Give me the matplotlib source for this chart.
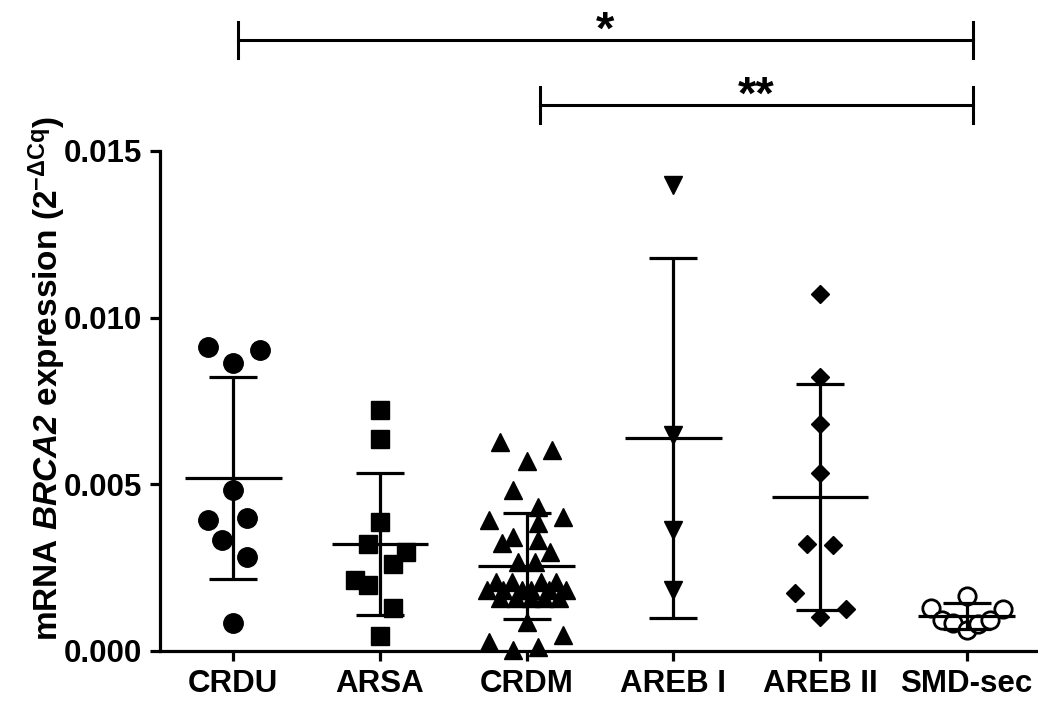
import matplotlib
matplotlib.use("Agg")
import matplotlib.pyplot as plt
import matplotlib.transforms as mtransforms
import numpy as np

plt.rcParams['font.family'] = ['Liberation Sans', 'DejaVu Sans']
plt.rcParams['font.weight'] = 'bold'
plt.rcParams['mathtext.fontset'] = 'custom'
plt.rcParams['mathtext.rm'] = 'Liberation Sans:bold'
plt.rcParams['mathtext.it'] = 'Liberation Sans:italic:bold'
plt.rcParams['mathtext.bf'] = 'Liberation Sans:bold'
plt.rcParams['mathtext.bfit'] = 'Liberation Sans:italic:bold'

groups = ['CRDU', 'ARSA', 'CRDM', 'AREB I', 'AREB II', 'SMD-sec']

# values (2^-dCq)
crdu = [0.00912, 0.00903, 0.00864, 0.00483, 0.00393, 0.00399, 0.00333, 0.00282, 0.00084]
arsa = [0.00723, 0.00636, 0.00387, 0.00321, 0.00297, 0.00261, 0.00213, 0.00198, 0.00129, 0.00045]
crdm = [0.00627, 0.00603, 0.00570, 0.00483, 0.00432, 0.00402, 0.00393, 0.00342, 0.00384,
        0.00324, 0.00333, 0.00297, 0.00267, 0.00267,
        0.00207, 0.00207, 0.00207, 0.00207,
        0.00183, 0.00183, 0.00183, 0.00183, 0.00183, 0.00183,
        0.00159, 0.00159, 0.00159, 0.00159, 0.00159,
        0.00087, 0.00027, 0.00048, 0.00003, 0.00012]
areb1 = [0.01398, 0.00648, 0.00363, 0.00183]
areb2 = [0.01071, 0.00822, 0.00681, 0.00534, 0.00321, 0.00318, 0.00174, 0.00102, 0.00126]
smd = [0.00165, 0.00129, 0.00126, 0.00093, 0.00084, 0.00063, 0.00081, 0.00093]

# horizontal scatter of the dots, in category widths
crdu_dx = [-0.17, 0.18, 0, 0, -0.17, 0.095, -0.08, 0.095, 0]
arsa_dx = [0, 0, 0, -0.085, 0.18, 0.09, -0.17, -0.085, 0.09, 0]
crdm_dx = [-0.18, 0.17, 0, -0.09, 0.08, 0.25, -0.26, -0.09, 0.08,
           -0.17, 0.08, 0.16, -0.06, 0.06,
           -0.21, -0.10, 0.10, 0.20,
           -0.27, -0.16, -0.03, 0.03, 0.15, 0.27,
           -0.18, -0.07, 0.03, 0.12, 0.22,
           0, -0.26, 0.25, -0.09, 0.08]
areb1_dx = [0, 0, 0, 0]
areb2_dx = [0, 0, 0, 0, -0.09, 0.09, -0.17, 0, 0.18]
smd_dx = [0, -0.245, 0.25, -0.17, -0.09, 0, 0.08, 0.16]

# mean and SD as drawn
means = [0.00519, 0.00321, 0.00255, 0.00639, 0.00462, 0.00105]
sds = [0.00303, 0.00213, 0.00158, 0.00539, 0.00338, 0.00039]

fig = plt.figure(figsize=(10.38, 7.02), dpi=100)
ax = fig.add_axes([160 / 1038, 51 / 702, 880 / 1038, 500 / 702])

data = [crdu, arsa, crdm, areb1, areb2, smd]
offs = [crdu_dx, arsa_dx, crdm_dx, areb1_dx, areb2_dx, smd_dx]
styles = [dict(marker='o', ms=14, mfc='black'),
          dict(marker='s', ms=12.5, mfc='black'),
          dict(marker='^', ms=13, mfc='black'),
          dict(marker='v', ms=13, mfc='black'),
          dict(marker='D', ms=9, mfc='black'),
          dict(marker='o', ms=12.5, mfc='white', mew=2)]

for i, (vals, dx, st) in enumerate(zip(data, offs, styles)):
    x = i + np.array(dx)
    ax.plot(x, vals, ls='none', mec='black', clip_on=False, zorder=3, **st)

xs = np.arange(len(groups))
ax.errorbar(xs, means, yerr=sds, fmt='none', ecolor='black', elinewidth=2.3,
            capsize=17, capthick=2.3, zorder=4)
ax.hlines(means, xs - 0.33, xs + 0.33, color='black', lw=2.3, zorder=4)

ax.set_xlim(-0.5, 5.5)
ax.set_ylim(0, 0.015)
ax.set_yticks([0, 0.005, 0.010, 0.015])
ax.set_yticklabels(['0.000', '0.005', '0.010', '0.015'])
ax.set_xticks(xs)
ax.set_xticklabels(groups)
ax.spines['top'].set_visible(False)
ax.spines['right'].set_visible(False)
for s in ['left', 'bottom']:
    ax.spines[s].set_linewidth(2.3)
ax.tick_params(width=2.3, length=7, labelsize=22.5, pad=6)
ax.set_ylabel(r'mRNA $\mathbfit{BRCA2}$ expression (2$^{-\Delta\mathrm{Cq}}$)',
              fontsize=24, fontweight='bold')
ax.yaxis.set_label_coords(-0.105, 0.545)

# significance brackets
brackets = [(0.03, 5.04, 0.01833, '*'), (2.09, 5.04, 0.01638, '**')]
star_shift = mtransforms.offset_copy(ax.transData, fig=fig, x=0, y=-4, units='dots')
for x0, x1, y, lab in brackets:
    ax.plot([x0, x1], [y, y], color='black', lw=2.2, clip_on=False)
    for xx in (x0, x1):
        ax.plot([xx, xx], [y - 0.00054, y + 0.00054], color='black', lw=2.2, clip_on=False)
    ax.text((x0 + x1) / 2, y, lab, ha='center', va='baseline',
            fontsize=34, fontweight='bold', transform=star_shift)

fig.savefig('out.png', dpi=100)
